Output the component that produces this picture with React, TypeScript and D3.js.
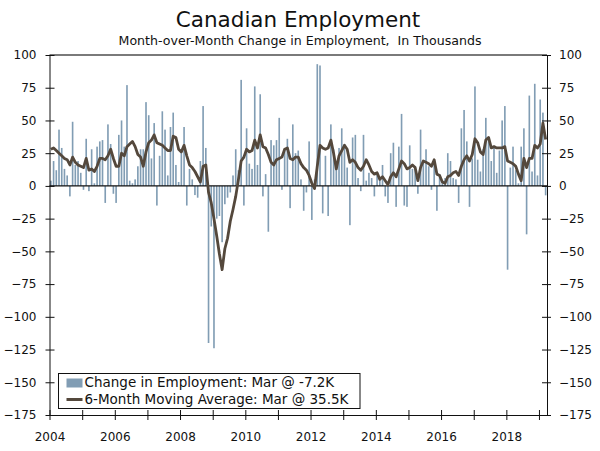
import * as d3 from "d3";
import { useEffect, useRef } from "react";

// monthly change in employment (thousands), Jan 2004 .. Mar 2019
const change = [
  4, 19, 12, 43, 29, 13, 8, -8, 49, 16, 19, 10,
  -3, 36, -4, 28, 2, 30, 34, 35, -13, 47, 32, -6,
  -13, 39, 50, 30, 77, 4, 2, 5, 15, 28, 28, 64,
  54, 21, 48, -15, 23, 57, 43, 8, 45, 56, 16, 3,
  27, 45, -15, 13, 5, -7, -9, 19, 61, 29, -120, -31,
  -124, -25, -23, -43, -14, -9, -5, 8, 28, 12, 81, -15,
  44, 17, 13, 76, 16, 70, -8, 9, -35, 35, 31, 35,
  52, -3, 28, 36, -17, 47, 25, 27, 5, -19, -5, 34,
  -26, 5, 93, 92, -21, 23, -23, 47, 28, 14, 29, 44,
  32, 14, -30, 37, 39, 6, -4, 39, 4, 10, 6, -8,
  9, 5, 16, -8, -13, 25, 33, -16, 30, 55, -15, -16,
  31, 13, 15, -6, 43, 19, 28, 15, -3, 20, -19, 9,
  4, 6, 25, 19, 6, 5, -13, 44, 58, 34, -16, 21,
  76, 20, 11, 28, 52, 37, 19, 30, 10, 27, 50, 61,
  -64, 14, 30, 12, 2, 30, 44, -37, 69, 11, 78, 8,
  66, 56, -7.2,
];

// 6-month moving average, same months
const movingAvg = [
  28, 29, 27, 25, 23, 21, 20, 16, 22, 18, 16, 15,
  14, 21, 12, 13, 11, 15, 21, 21, 20, 23, 28, 21,
  15, 15, 25, 23, 30, 32, 34, 30, 24, 22, 15, 26,
  33, 35, 39, 33, 32, 31, 29, 27, 27, 38, 37, 28,
  26, 31, 23, 16, 14, 11, 7, 3, 15, 16, -5, -13,
  -25, -38, -52, -64, -48, -40, -27, -18, -8, 5, 19, 22,
  28, 26, 27, 35, 29, 39, 30, 29, 24, 18, 16, 20,
  21, 22, 28, 29, 21, 20, 22, 22, 17, 14, 12, 8,
  2, -2, 15, 31, 29, 28, 29, 35, 25, 13, 23, 27,
  31, 28, 18, 20, 18, 14, 12, 15, 20, 16, 11, 9,
  10, 5, 7, 4, 1, 7, 10, 7, 13, 19, 17, 13,
  14, 16, 14, 4, 14, 19, 18, 17, 15, 20, 9, 8,
  3, 2, 7, 8, 10, 11, 8, 15, 20, 23, 19, 24,
  36, 33, 26, 24, 35, 37, 29, 30, 29, 29, 29, 30,
  19, 18, 17, 15, 9, 4, 21, 14, 21, 21, 31, 29,
  32, 48, 35.5,
];

const yTicks = [100, 75, 50, 25, 0, -25, -50, -75, -100, -125, -150, -175];
const tickYears = [2004, 2005, 2006, 2007, 2008, 2009, 2010, 2011, 2012, 2013, 2014, 2015, 2016, 2017, 2018, 2019];
const labelYears = [2004, 2006, 2008, 2010, 2012, 2014, 2016, 2018];

const title = "Canadian Employment";
const subtitle = "Month-over-Month Change in Employment,  In Thousands";
const legendLabels = [
  "Change in Employment: Mar @ -7.2K",
  "6-Month Moving Average: Mar @ 35.5K",
];

const barColor = "#819db4";
const lineColor = "#54483c";
const font = "DejaVu Sans, Verdana, sans-serif";

const App = () => {
  const ref = useRef(null);

  useEffect(() => {
    document.body.style.margin = "0";
    const width = 600, height = 451;
    const left = 49.5, right = 547, top = 55, bottom = 415;

    const svg = d3.select(ref.current);
    svg.selectAll("*").remove();
    svg.append("rect").attr("width", width).attr("height", height).attr("fill", "white");

    const x = d3
      .scaleTime()
      .domain([new Date(2004, 0, 1), new Date(2019, 3, 1)])
      .range([left, right]);
    const band = d3
      .scaleBand()
      .domain(change.map((_, i) => i))
      .range([left, right])
      .paddingInner(0.4)
      .paddingOuter(0.2);
    const y = d3.scaleLinear().domain([-175, 100]).range([bottom, top]);

    // title
    svg.append("text")
      .attr("x", 298).attr("y", 27)
      .attr("text-anchor", "middle")
      .attr("font-family", font).attr("font-size", 21.5)
      .attr("fill", "#111")
      .text(title);
    svg.append("text")
      .attr("x", 300).attr("y", 44.5)
      .attr("text-anchor", "middle")
      .attr("font-family", font).attr("font-size", 12.6)
      .attr("fill", "#111")
      .style("white-space", "pre")
      .text(subtitle);

    // bars
    svg.append("g")
      .selectAll("rect")
      .data(change)
      .join("rect")
      .attr("x", (_, i) => band(i))
      .attr("width", band.bandwidth())
      .attr("y", (d) => y(Math.max(0, d)))
      .attr("height", (d) => Math.abs(y(d) - y(0)))
      .attr("fill", barColor);

    // zero line
    svg.append("line")
      .attr("x1", left).attr("x2", right)
      .attr("y1", y(0)).attr("y2", y(0))
      .attr("stroke", "#111").attr("stroke-width", 1.2);

    // moving average
    const line = d3
      .line()
      .x((_, i) => band(i) + band.bandwidth() / 2)
      .y((d) => y(d));
    svg.append("path")
      .datum(movingAvg)
      .attr("d", line)
      .attr("fill", "none")
      .attr("stroke", lineColor)
      .attr("stroke-width", 2.8)
      .attr("stroke-linejoin", "round");

    // top frame
    svg.append("line")
      .attr("x1", left).attr("x2", right)
      .attr("y1", top).attr("y2", top)
      .attr("stroke", "#7a7a7a").attr("stroke-width", 2);

    const styleAxis = (g) => {
      g.attr("font-family", font).attr("font-size", 12);
      g.selectAll("text").attr("fill", "#111");
      g.selectAll("path, line").attr("stroke", "#111");
    };

    // left axis
    svg.append("g")
      .attr("transform", `translate(${left},0)`)
      .call(d3.axisLeft(y).tickValues(yTicks).tickSize(4).tickSizeOuter(0).tickPadding(9))
      .call(styleAxis)
      .call((g) => g.selectAll(".tick line").attr("x1", 5));

    // right axis
    svg.append("g")
      .attr("transform", `translate(${right},0)`)
      .call(d3.axisRight(y).tickValues(yTicks).tickSize(4).tickSizeOuter(0).tickPadding(8))
      .call(styleAxis)
      .call((g) => g.selectAll(".tick line").attr("x1", -5));

    // bottom axis
    svg.append("g")
      .attr("transform", `translate(0,${bottom})`)
      .call(
        d3.axisBottom(x)
          .tickValues(tickYears.map((yr) => new Date(yr, 0, 1)))
          .tickFormat((d) => (labelYears.includes(d.getFullYear()) ? String(d.getFullYear()) : ""))
          .tickSize(5)
          .tickSizeOuter(0)
          .tickPadding(12)
      )
      .call(styleAxis)
      .call((g) => g.selectAll(".tick line").attr("y1", -5));

    // legend
    const lg = svg.append("g");
    lg.append("rect")
      .attr("x", 58.5).attr("y", 373.5)
      .attr("width", 301.5).attr("height", 35)
      .attr("fill", "white").attr("stroke", "#111");
    lg.append("rect")
      .attr("x", 66.5).attr("y", 378.5)
      .attr("width", 16).attr("height", 9)
      .attr("fill", barColor);
    lg.append("line")
      .attr("x1", 66.5).attr("x2", 82.5)
      .attr("y1", 399.5).attr("y2", 399.5)
      .attr("stroke", lineColor).attr("stroke-width", 3);
    lg.selectAll("text")
      .data(legendLabels)
      .join("text")
      .attr("x", 84.5)
      .attr("y", (_, i) => 387 + i * 17)
      .attr("font-family", font).attr("font-size", 13.5)
      .attr("fill", "#111")
      .text((d) => d);
  }, []);

  return <svg ref={ref} width={600} height={451} style={{ display: "block" }} />;
};

export default App;
